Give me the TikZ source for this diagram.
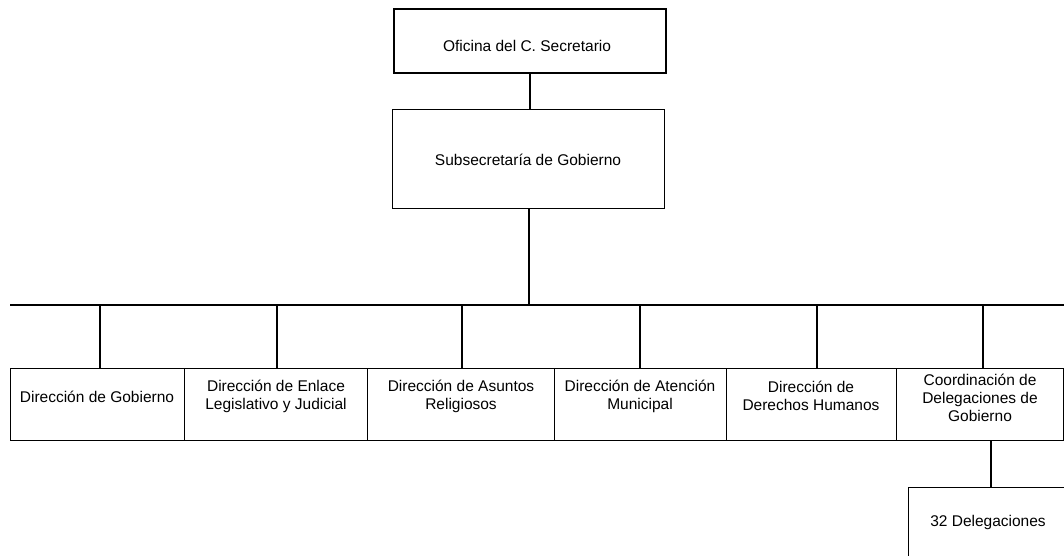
\documentclass[tikz,border=0pt]{standalone}
\usepackage{fontspec}
\setmainfont{Liberation Sans}
\begin{document}
\begin{tikzpicture}[x=1pt,y=-1pt,
  unit/.style={draw, line width=1pt, inner sep=0pt, anchor=north west},
  lbl/.style={align=center, font=\fontsize{15.5}{18}\selectfont, inner sep=0pt},
  link/.style={line width=2pt}]
\useasboundingbox (0,0) rectangle (1064,556);
\clip (0,0) rectangle (1064,556);

% upper levels
\node[unit, line width=2pt, minimum width=272, minimum height=64] (ofi) at (393,8) {};
\node[unit, minimum width=272, minimum height=99] (sub) at (392,109) {};
\node[lbl] (ofit) at (527,46) {Oficina del C. Secretario};
\node[lbl] (subt) at (528,160) {Subsecretaría de Gobierno};

% directorates
\node[unit, minimum width=174, minimum height=72] (b1) at (10,368) {};
\node[unit, minimum width=183, minimum height=72] (b2) at (184,368) {};
\node[unit, minimum width=187, minimum height=72] (b3) at (367,368) {};
\node[unit, minimum width=172, minimum height=72] (b4) at (554,368) {};
\node[unit, minimum width=170, minimum height=72] (b5) at (726,368) {};
\node[unit, minimum width=167, minimum height=72] (b6) at (896,368) {};
\node[unit, minimum width=200, minimum height=100] (del) at (908,487) {};

\node[lbl] (b1t) at (97,397) {Dirección de Gobierno};
\node[lbl] (b2t) at (276,396) {Dirección de Enlace\\Legislativo y Judicial};
\node[lbl] (b3t) at (461,396) {Dirección de Asuntos\\Religiosos};
\node[lbl] (b4t) at (640,396) {Dirección de Atención\\Municipal};
\node[lbl] (b5t) at (811,396) {Dirección de\\Derechos Humanos};
\node[lbl] (b6t) at (980,398) {Coordinación de\\Delegaciones de\\Gobierno};
\node[lbl] (delt) at (988,522) {32 Delegaciones};

% connectors
\draw[link] (ofi.south) -- (ofi.south |- sub.north);
\coordinate (busL) at (10,305);
\coordinate (busR) at (1064,305);
\draw[link] (sub.south) -- (sub.south |- busL);
\draw[link] (busL) -- (busR);
\foreach \x/\b in {100/b1, 277/b2, 462/b3, 640/b4, 817/b5, 983/b6} {
  \coordinate (top-\b) at (\x,305);
  \draw[link] (top-\b) -- (top-\b |- \b.north);
}
\draw[link] ([xshift=10.5pt]b6.south) -- ([xshift=10.5pt]b6.south |- del.north);
\end{tikzpicture}
\end{document}
